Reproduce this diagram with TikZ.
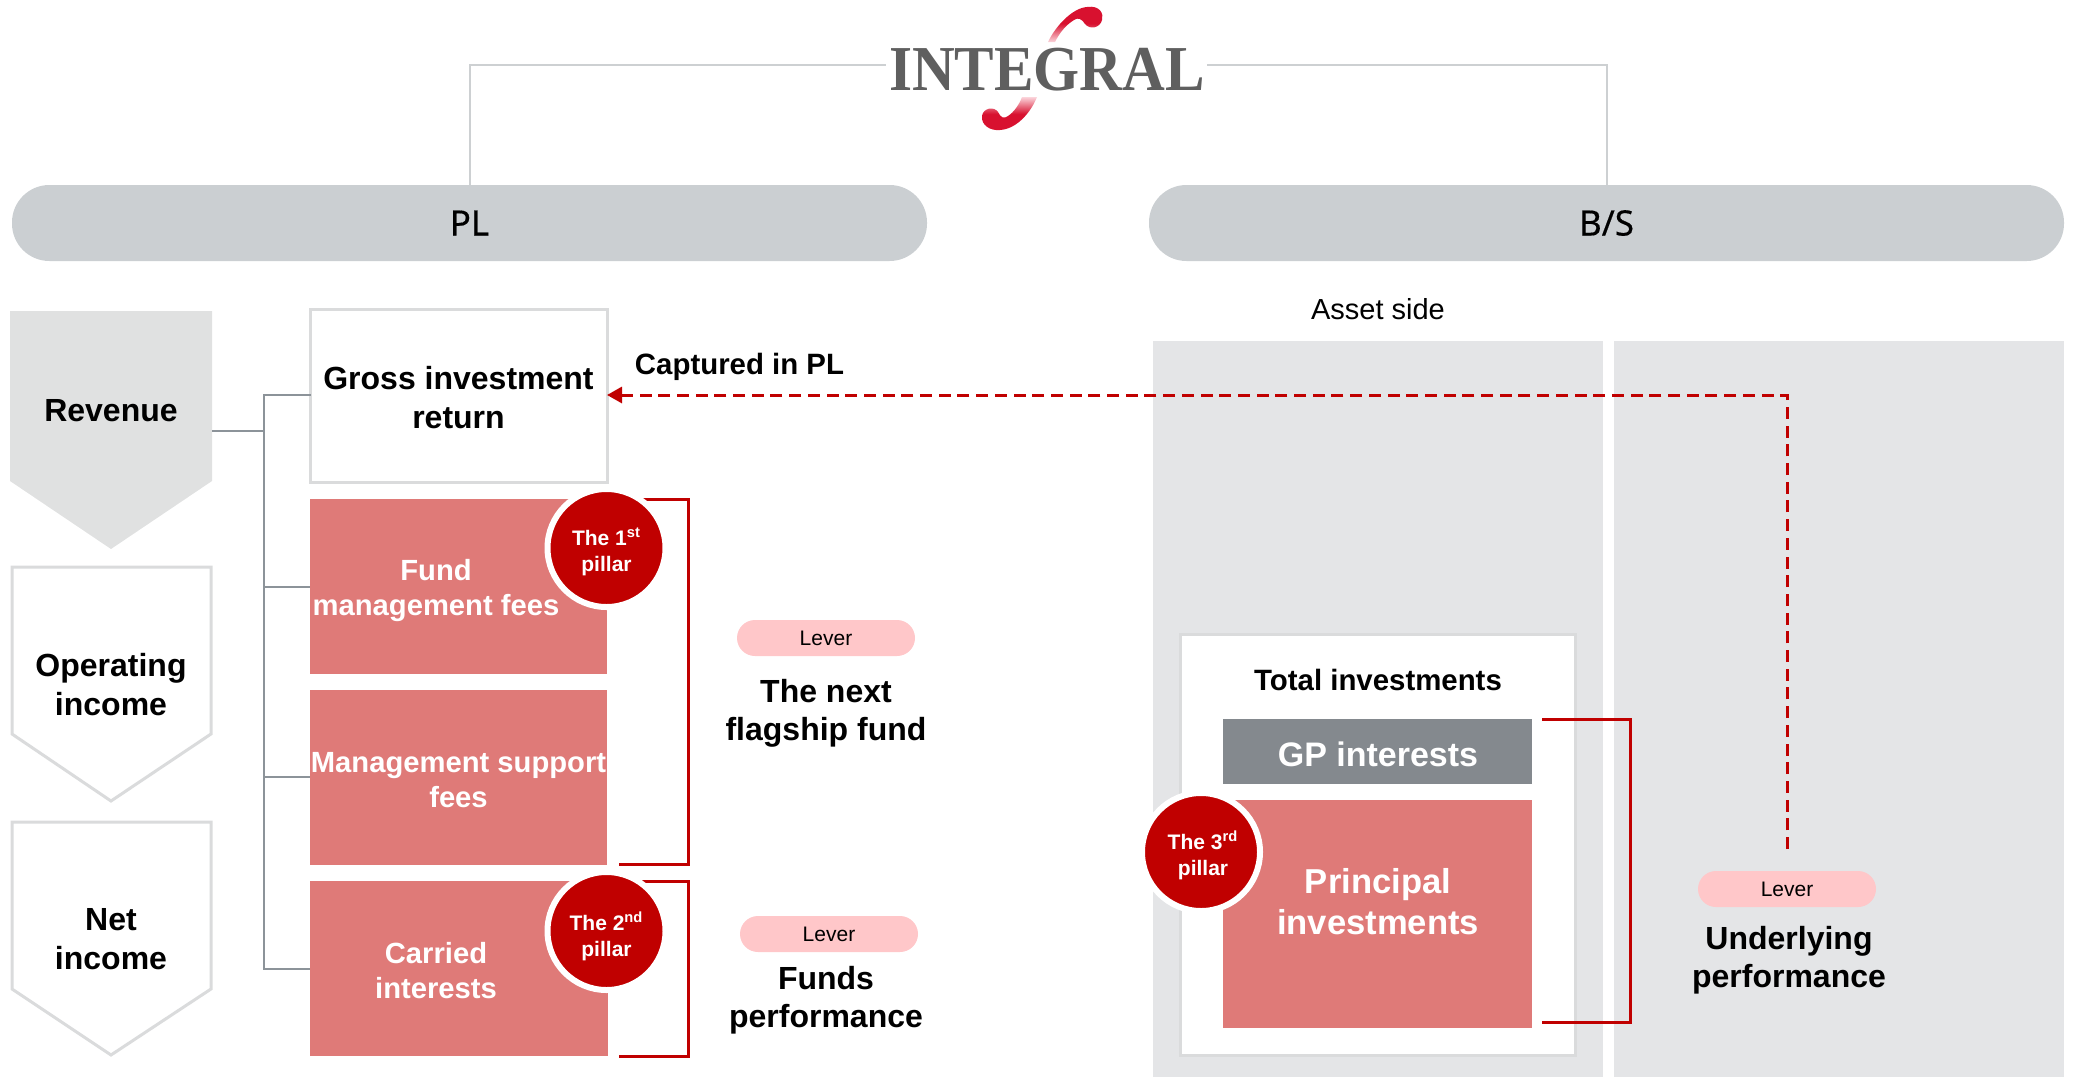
\documentclass[tikz,border=0pt]{standalone}
\usepackage{fontspec}
\setmainfont{Liberation Sans}
\newfontfamily\logofont{Liberation Serif}
\newfontfamily\headfont[FakeBold=0.4]{Noto Sans}
\usetikzlibrary{arrows.meta,calc}
\definecolor{pillgray}{HTML}{CBCFD2}
\definecolor{pentgray}{HTML}{E0E1E1}
\definecolor{panelgray}{HTML}{E4E5E7}
\definecolor{edgegray}{HTML}{DADBDC}
\definecolor{treegray}{HTML}{8C9399}
\definecolor{topgray}{HTML}{CDD0D2}
\definecolor{salmon}{HTML}{DF7A78}
\definecolor{deepred}{HTML}{C00000}
\definecolor{slategray}{HTML}{84898E}
\definecolor{leverpink}{HTML}{FFC7C9}
\definecolor{logogray}{HTML}{5F5F5F}
\definecolor{logored}{HTML}{D8112F}
\definecolor{logopink}{HTML}{FBD5DB}
\tikzset{
  x=0.5pt,y=-0.5pt,
  base/.style={inner sep=0pt,outer sep=0pt,align=center},
  txt/.style={base,font=\bfseries\fontsize{16}{19.5}\selectfont,text=black},
  txtl/.style={base,font=\bfseries\fontsize{16}{19}\selectfont,text=black},
  txtb/.style={base,font=\bfseries\fontsize{14.7}{17.5}\selectfont,text=black},
  wtxt/.style={base,font=\bfseries\fontsize{14.6}{17.5}\selectfont,text=white},
  salmonbox/.style={base,fill=salmon},
  pillar/.style={base,circle,fill=deepred,draw=white,line width=3pt,minimum size=59pt},
  pillartxt/.style={base,text=white,font=\bfseries\fontsize{10.5}{13}\selectfont},
  lever/.style={base,rounded corners=9pt,fill=leverpink,minimum width=89pt,minimum height=18pt},
  levertxt/.style={base,font=\fontsize{10.5}{12}\selectfont},
  headpill/.style={base,rounded corners=18.7pt,fill=pillgray,minimum width=457.5pt,minimum height=38pt,
     font=\headfont\fontsize{17.5}{20}\selectfont},
  panel/.style={base,fill=panelgray},
  pent/.style={line width=1.5pt,draw=edgegray,fill=white},
  tree/.style={draw=treegray,line width=1pt},
  topline/.style={draw=topgray,line width=1pt},
  brace/.style={draw=deepred,line width=1.5pt},
  dashlink/.style={draw=deepred,line width=1.5pt,dash pattern=on 6pt off 3.35pt},
}
\newcommand{\rectnode}[7][]{%
  \pgfmathsetmacro{\cxx}{(#3+#5)/2}\pgfmathsetmacro{\cyy}{(#4+#6)/2}%
  \pgfmathsetmacro{\wdd}{(#5-#3)/2}\pgfmathsetmacro{\htt}{(#6-#4)/2}%
  \node[#1,minimum width=\wdd pt,minimum height=\htt pt] (#2) at (\cxx,\cyy) {#7};}
\begin{document}
\begin{tikzpicture}
\useasboundingbox (0,0) rectangle (2073,1077);
% panels
\rectnode[panel]{asset}{1153}{341}{1603}{1077}{}
\rectnode[panel]{other}{1614}{341}{2064}{1077}{}
% logo
\node[base,text=logogray,font=\logofont\bfseries\fontsize{32}{32}\selectfont] (logo) at (1047,70) {\scalebox{0.925}[1]{INTEGRAL}};
\shade[top color=logored,bottom color=logopink,middle color=logored]
  (1048,42) .. controls (1055,27) and (1072,8) .. (1087,7)
  .. controls (1100,5) and (1104,14) .. (1102,20)
  .. controls (1100,28) and (1090,30) .. (1085,24)
  .. controls (1082,19) and (1078,17) .. (1074,20)
  .. controls (1066,25) and (1060,32) .. (1055,42) -- cycle;
\shade[top color=logopink,bottom color=logored,middle color=logored]
  (1037,97) .. controls (1031,112) and (1017,129) .. (1000,130)
  .. controls (990,131) and (981,125) .. (982,116)
  .. controls (983,108) and (994,106) .. (998,112)
  .. controls (1001,118) and (1004,119) .. (1008,116)
  .. controls (1014,112) and (1019,105) .. (1022,97) -- cycle;
% head pills
\node[headpill] (pl) at (469.5,223) {PL};
\node[headpill] (bs) at (1606.5,223) {B/S};
\coordinate (logoL) at (886,65);
\coordinate (logoR) at (1207,65);
\draw[topline] (pl.north) |- (logoL);
\draw[topline] (bs.north) |- (logoR);
% pentagons
\draw[fill=pentgray,draw=none] (10,311) -- (212,311) -- (212,481) -- (111,549) -- (10,481) -- cycle;
\draw[pent] (12,567) -- (211,567) -- (211,734) -- (111,801) -- (12,734) -- cycle;
\draw[pent] (12,822) -- (211,822) -- (211,989) -- (111,1055) -- (12,989) -- cycle;
\node[txt] (rev) at (111,411) {Revenue};
\node[txt] (op) at (111,684.5) {Operating\\income};
\node[txt] (net) at (111,939.5) {Net\\income};
% boxes
\rectnode[base,draw=edgegray,line width=1.5pt,fill=white]{gross}{310.5}{309}{607}{482}{}
\node[txt] (grosst) at (458.5,397.5) {Gross investment\\return};
\rectnode[salmonbox]{fund}{310}{499}{607}{674}{}
\rectnode[salmonbox]{mgmt}{310}{690}{607}{865}{}
\rectnode[salmonbox]{carried}{310}{881}{608}{1056}{}
\node[wtxt] (fundt) at (436,591) {Fund\\management fees};
\node[wtxt] (mgmtt) at (458.5,780) {Management support\\fees};
\node[wtxt] (carriedt) at (436,970.5) {Carried\\interests};
% tree
\coordinate (revR) at (212,431);
\coordinate (trunk) at (264,431);
\coordinate (trunkTop) at (264,395);
\coordinate (trunkBot) at (264,969);
\draw[tree] (revR) -- (trunk);
\draw[tree] (gross.west |- 0,395) -- (trunkTop) -- (trunkBot) -- (trunkBot -| carried.west);
\draw[tree] (264,587) -- (264,587 -| fund.west);
\draw[tree] (264,777) -- (264,777 -| mgmt.west);
% total investments
\rectnode[base,draw=edgegray,line width=1.5pt,fill=white]{total}{1180}{634}{1575}{1055}{}
\node[txtb] (totalt) at (1378,680) {Total investments};
\rectnode[base,fill=slategray]{gp}{1223}{719}{1532}{784}{}
\node[base,text=white,font=\bfseries\fontsize{17}{20}\selectfont] (gpt) at (1378,754.5) {GP interests};
\rectnode[base,fill=salmon]{principal}{1223}{800}{1532}{1028}{}
\node[base,text=white,font=\bfseries\fontsize{17.3}{20.5}\selectfont] (principalt) at (1378,902) {Principal\\investments};
% red brackets
\draw[brace] (619,499.5) -- (688,499.5) -- (688,864) -- (619,864);
\draw[brace] (619,881) -- (688,881) -- (688,1056) -- (619,1056);
\draw[brace] (1542,719.5) -- (1630.5,719.5) -- (1630.5,1022) -- (1542,1022);
% pillars
\node[pillar] (p1) at (606.5,548) {};
\node[pillar] (p2) at (606.5,931) {};
\node[pillar] (p3) at (1201,852) {};
\node[pillartxt] (p1t) at (606.5,552) {The 1\textsuperscript{st}\\pillar};
\node[pillartxt] (p2t) at (606.5,936) {The 2\textsuperscript{nd}\\pillar};
\node[pillartxt] (p3t) at (1203,855) {The 3\textsuperscript{rd}\\pillar};
% labels
\node[base,font=\fontsize{14.5}{17}\selectfont] (assett) at (1378,309.5) {Asset side};
\node[txtb] (captured) at (739.5,367) {Captured in PL};
\node[lever] (l1) at (826,638) {};
\node[lever] (l2) at (829,934) {};
\node[lever] (l3) at (1787,889) {};
\node[levertxt] at (l1) {Lever};
\node[levertxt] at (l2) {Lever};
\node[levertxt] at (l3) {Lever};
\node[txtl] (next) at (826,713) {The next\\flagship fund};
\node[txtl] (perf) at (826,1000.5) {Funds\\performance};
\node[txtl] (under) at (1789,960) {Underlying\\performance};
% dashed arrow
\coordinate (dashStart) at (1787,849);
\draw[dashlink,-{Triangle[length=7.5pt,width=8pt]}] (dashStart) |- (gross.east |- 0,395);
\end{tikzpicture}
\end{document}
